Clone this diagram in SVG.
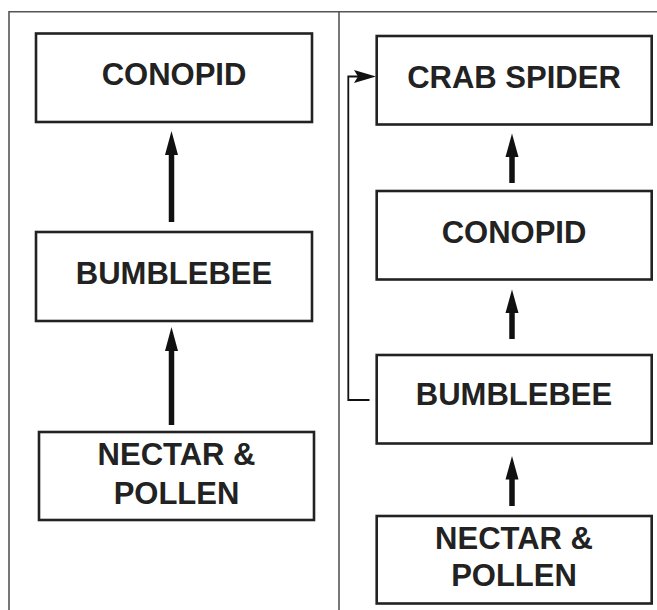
<svg xmlns="http://www.w3.org/2000/svg" width="657" height="610" viewBox="0 0 657 610">
<style>
.frame{stroke:#555;stroke-width:1.6;fill:none}
.box{fill:#fff;stroke:#222;stroke-width:2.6}
.lbl{font-family:"Liberation Sans",Arial,sans-serif;font-weight:bold;font-size:31px;fill:#222;text-anchor:middle}
.shaft{stroke:#111;stroke-width:5.5;fill:none}
.head{fill:#111}
.fb{stroke:#111;stroke-width:1.8;fill:none}
</style>
<rect width="657" height="610" fill="#fff"/>
<g id="frame">
<path class="frame" d="M9,610 V11.7 H657"/>
<path class="frame" d="M339,11.7 V610"/>
</g>
<g id="connectors">
<line class="shaft" x1="171.5" y1="222" x2="171.5" y2="150"/>
<polygon class="head" points="171.5,131 165,155 178,155"/>
<line class="shaft" x1="171.5" y1="425" x2="171.5" y2="346"/>
<polygon class="head" points="171.5,327 165,351 178,351"/>
<line class="shaft" x1="512" y1="183" x2="512" y2="150"/>
<polygon class="head" points="512,133.5 505.5,157 518.5,157"/>
<line class="shaft" x1="512" y1="339" x2="512" y2="306"/>
<polygon class="head" points="512,289.5 505.5,313 518.5,313"/>
<line class="shaft" x1="512" y1="506" x2="512" y2="473"/>
<polygon class="head" points="512,456 505.5,479.5 518.5,479.5"/>
<path class="fb" d="M369.5,400 H348.3 V76.5 H360"/>
<polygon class="head" points="376,76.5 354,70 358,76.5 354,83"/>
</g>
<g id="l-conopid">
<rect class="box" x="36" y="33.5" width="276" height="88.5"/>
<text class="lbl" x="174" y="85">CONOPID</text>
</g>
<g id="l-bumblebee">
<rect class="box" x="36" y="232" width="276" height="89"/>
<text class="lbl" x="174" y="283.5">BUMBLEBEE</text>
</g>
<g id="l-nectar">
<rect class="box" x="39" y="432" width="275" height="88"/>
<text class="lbl" x="176.5" y="464.5">NECTAR &amp;</text>
<text class="lbl" x="176.5" y="503.5">POLLEN</text>
</g>
<g id="r-crabspider">
<rect class="box" x="376.7" y="36" width="275" height="88.5"/>
<text class="lbl" x="514" y="88">CRAB SPIDER</text>
</g>
<g id="r-conopid">
<rect class="box" x="376.7" y="191" width="275" height="88.5"/>
<text class="lbl" x="514" y="243">CONOPID</text>
</g>
<g id="r-bumblebee">
<rect class="box" x="376.7" y="355" width="275" height="88.5"/>
<text class="lbl" x="514" y="404.5">BUMBLEBEE</text>
</g>
<g id="r-nectar">
<rect class="box" x="376.7" y="516" width="275" height="87.5"/>
<text class="lbl" x="514" y="548.5">NECTAR &amp;</text>
<text class="lbl" x="514" y="585.5">POLLEN</text>
</g>
</svg>
